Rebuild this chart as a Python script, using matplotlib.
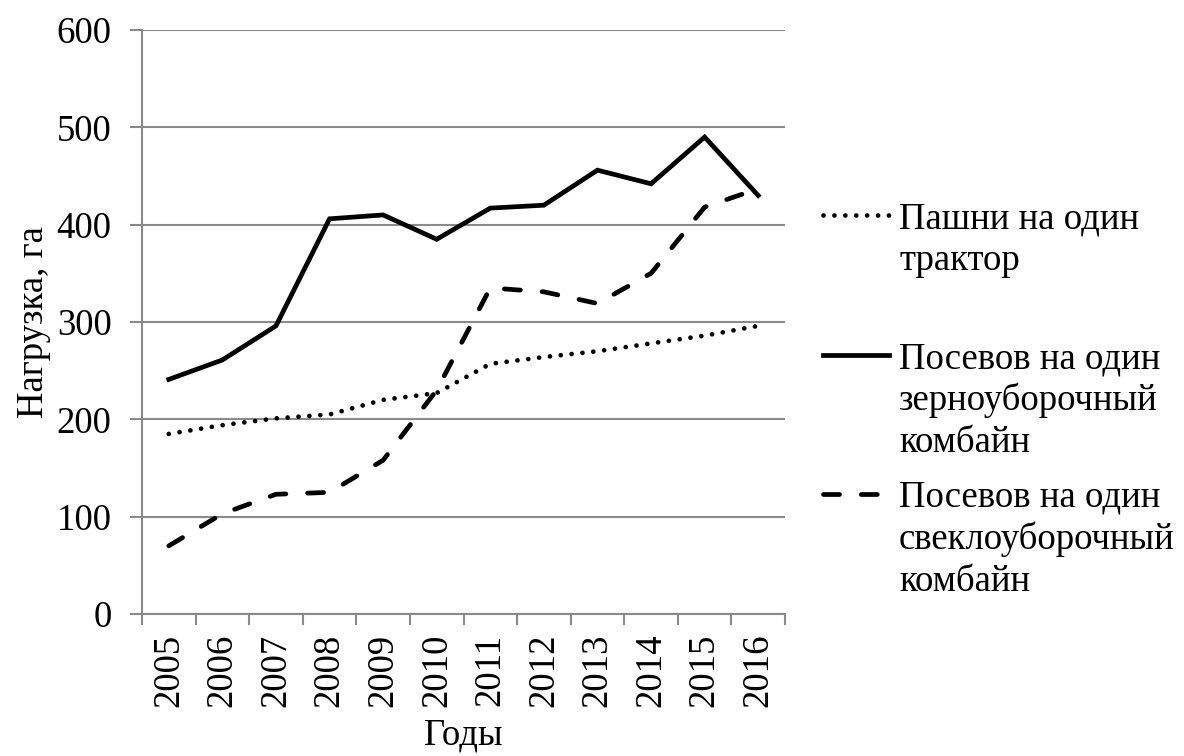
import matplotlib
matplotlib.use('Agg')
from matplotlib import pyplot as plt
from matplotlib.lines import Line2D
from matplotlib.ticker import FixedLocator

plt.rcParams['font.family'] = ['Liberation Serif', 'DejaVu Serif']

years = ['2005', '2006', '2007', '2008', '2009', '2010',
         '2011', '2012', '2013', '2014', '2015', '2016']
tractor = [185, 194, 201, 205, 220, 227, 257, 264, 270, 278, 286, 296]
grain_combine = [241, 261, 296, 406, 410, 385, 417, 420, 456, 442, 490, 430]
beet_combine = [70, 103, 123, 125, 158, 230, 335, 331, 319, 350, 418, 437]

labels = [
    ['Пашни на один', 'трактор'],
    ['Посевов на один', 'зерноуборочный', 'комбайн'],
    ['Посевов на один', 'свеклоуборочный', 'комбайн'],
]

W, H = 1184, 756
FS = 26.5
GRID_C = '#8a8a8a'

dotted = dict(color='black', lw=3.4, linestyle=(0, (0.01, 2.3)),
              dash_capstyle='round', solid_capstyle='round')
solid = dict(color='black', lw=3.4, linestyle='-', solid_joinstyle='miter')
dashed = dict(color='black', lw=3.4, linestyle=(0, (3.4, 4.6)),
              dash_capstyle='round')
styles = [dotted, solid, dashed]


def fx(px):
    return px / W


def fy(py):
    return 1 - py / H


fig = plt.figure(figsize=(W / 100, H / 100), dpi=100, facecolor='w')
ax = fig.add_axes([fx(142), fy(614), fx(785) - fx(142), fy(30) - fy(614)])

x = list(range(len(years)))
for series, st in zip([tractor, grain_combine, beet_combine], styles):
    ax.plot(x, series, **st)

ax.set_xlim(-0.5, len(years) - 0.5)
ax.set_ylim(0, 600)
ax.set_yticks(range(0, 601, 100))
ax.yaxis.grid(True, color=GRID_C, lw=1.5)
ax.set_axisbelow(True)

ax.set_xticks(x)
ax.set_xticklabels(years, rotation=90, fontsize=FS)
ax.tick_params(axis='x', which='major', length=0, pad=14)
ax.xaxis.set_minor_locator(FixedLocator([i - 0.5 for i in range(len(years) + 1)]))
ax.tick_params(axis='x', which='minor', length=8, width=1.5, color=GRID_C, direction='out')
ax.tick_params(axis='y', length=9, width=1.5, color=GRID_C, labelsize=FS, pad=13)

for side in ['top', 'right']:
    ax.spines[side].set_visible(False)
for side in ['left', 'bottom']:
    ax.spines[side].set_color(GRID_C)
    ax.spines[side].set_linewidth(1.5)

ax.set_ylabel('Нагрузка, га', fontsize=FS, labelpad=4)
ax.set_xlabel('Годы', fontsize=FS, labelpad=8)

# legend drawn by hand so the handle sits on the first line, as in the original
base_lines = [228, 368, 507]
line_gap = 42
for lab, st, b in zip(labels, styles, base_lines):
    fig.add_artist(Line2D([fx(823), fx(889)], [fy(b - 13), fy(b - 13)],
                          transform=fig.transFigure, **st))
    for i, t in enumerate(lab):
        fig.text(fx(899), fy(b + i * line_gap), t, fontsize=FS, va='baseline', ha='left')

fig.savefig('out.png', dpi=100)
